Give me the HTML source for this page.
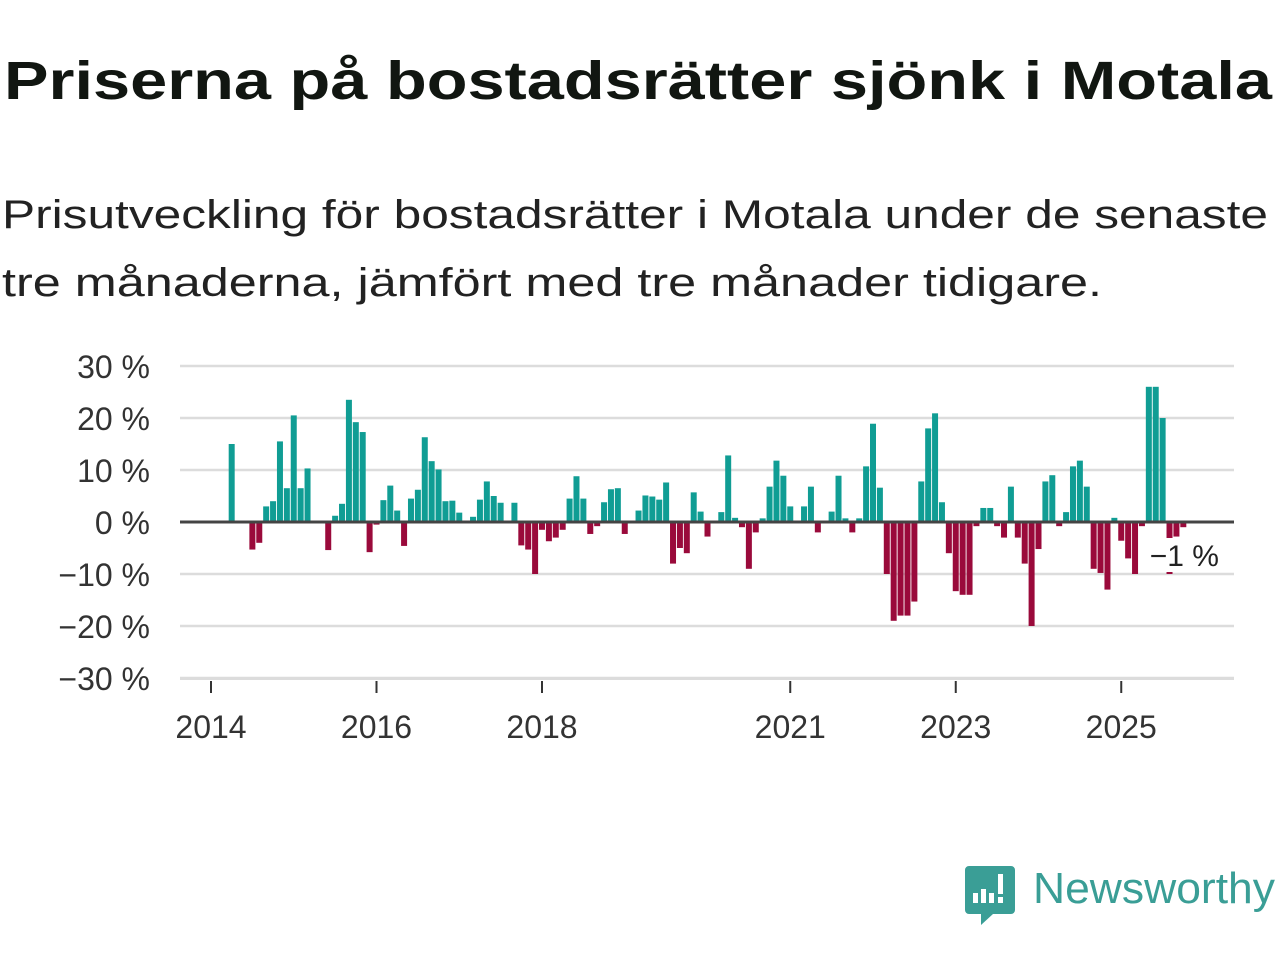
<!DOCTYPE html>
<html><head><meta charset="utf-8"><style>
html,body{margin:0;padding:0;background:#fff;}
svg{display:block;font-family:"Liberation Sans",sans-serif;}
</style></head><body>
<svg id="chart" width="1280" height="960" viewBox="0 0 1280 960">
<text x="4" y="99" font-size="54" font-weight="bold" fill="#111611" textLength="1268" lengthAdjust="spacingAndGlyphs">Priserna på bostadsrätter sjönk i Motala</text>
<text x="2" y="228" font-size="40" fill="#222" textLength="1266" lengthAdjust="spacingAndGlyphs">Prisutveckling för bostadsrätter i Motala under de senaste</text>
<text x="2" y="296" font-size="40" fill="#222" textLength="1100" lengthAdjust="spacingAndGlyphs">tre månaderna, jämfört med tre månader tidigare.</text>
<g id="grid"></g>
<g id="bars"></g>
<g id="axes"></g>
<g>
<path d="M969 866 h42 a4 4 0 0 1 4 4 v40 a4 4 0 0 1 -4 4 h-18 l-12 11 v-11 h-12 a4 4 0 0 1 -4 -4 v-40 a4 4 0 0 1 4 -4z" fill="#3a9e96"/>
<rect x="973" y="893" width="5" height="10" fill="#fff"/><rect x="981" y="889" width="5" height="14" fill="#fff"/><rect x="989" y="893" width="5" height="10" fill="#fff"/><rect x="998" y="874" width="5" height="20" fill="#fff"/><rect x="998" y="897" width="5" height="6" fill="#fff"/>
<text x="1033" y="903" font-size="44" fill="#3a9e96" textLength="242" lengthAdjust="spacingAndGlyphs">Newsworthy</text>
</g>
</svg>
<script>
const values = [0,0,0,15,0,0,-5.3,-4,3,4,15.5,6.5,20.5,6.5,10.3,0,0,-5.4,1.2,3.5,23.5,19.2,17.3,-5.8,-0.5,4.2,7,2.2,-4.6,4.5,6.2,16.3,11.7,10.1,4,4.1,1.8,0,1,4.3,7.8,5,3.7,0,3.7,-4.5,-5.3,-10,
-1.5,-3.7,-3,-1.5,4.5,8.8,4.5,-2.3,-0.8,3.8,6.3,6.5,-2.3,0,2.2,5.1,4.9,4.3,7.6,-8,-5,-6,5.7,2,-2.8,0,1.9,12.8,0.8,-1,-9,-2,0.7,6.8,11.8,8.9,3,0,3,6.8,-2,0,2,8.9,0.7,-2,0.7,10.7,18.9,6.6,-10,-19,-18,-18,-15.3,7.8,18,20.9,3.8,-6,-13.3,-14,-14,-0.8,2.7,2.7,-0.8,-3,6.8,-3,-8,-20,-5.2,7.8,9,-0.8,1.9,10.7,11.8,6.8,-9,-9.8,-13,0.8,-3.6,-7,-10,-0.8,26,26,20,-10,-2.8,-1];
const startYear = 2014;
const yTicks = [30,20,10,0,-10,-20,-30];
const yTickLabels = ["30 %","20 %","10 %","0 %","−10 %","−20 %","−30 %"];
const xTickYears = [2014,2016,2018,2021,2023,2025];
const lastLabel = "−1 %";

const NS="http://www.w3.org/2000/svg";
const plotL=180, plotR=1234;
const x0=211, monthW=82.75/12;
function xm(i){return x0+i*monthW;}
function xYear(y){return xm((y-startYear)*12);}
function yv(v){return 522 - v*5.2;}
function mk(tag,attrs,parent){const e=document.createElementNS(NS,tag);for(const k in attrs)e.setAttribute(k,attrs[k]);parent.appendChild(e);return e;}
const grid=document.getElementById('grid'), bars=document.getElementById('bars'), axes=document.getElementById('axes');
yTicks.forEach((t,k)=>{
  if(t!==0){const l=mk('line',{x1:plotL,x2:plotR,y1:yv(t),y2:yv(t),stroke:'#dcdcdc','stroke-width':2.5},grid);
  
  }
  const tx=mk('text',{x:150,y:yv(t)+12,'font-size':32,fill:'#333','text-anchor':'end'},axes);
  tx.textContent=yTickLabels[k];
  
  
});
const bw=6;
values.forEach((v,i)=>{
  if(v===0)return;
  const cx=xm(i);
  const r=mk('rect',{x:cx-bw/2,width:bw,y:Math.min(yv(v),522),height:Math.abs(yv(v)-522),fill:v>0?'#109d94':'#9a0a3b'},bars);
  
  
});
const zl=mk('line',{x1:plotL,x2:plotR,y1:522,y2:522,stroke:'#444','stroke-width':3},axes);


const xa=mk('line',{x1:plotL,x2:plotR,y1:679,y2:679,stroke:'#dcdcdc','stroke-width':2},axes);


xTickYears.forEach(y=>{
  const x=xYear(y);
  const t=mk('line',{x1:x,x2:x,y1:681,y2:693,stroke:'#333','stroke-width':2},axes);
  
  
  const tx=mk('text',{x:x,y:738,'font-size':32,fill:'#333','text-anchor':'middle'},axes);
  tx.textContent=String(y);
  
  
});
const li=values.length-1;
const bg=mk('rect',{x:xm(li)-37,y:538,width:76,height:34,fill:'#fff'},axes);


const lt=mk('text',{x:xm(li)+1,y:566,'font-size':30,fill:'#222','text-anchor':'middle'},axes);
lt.textContent=lastLabel;


</script>
</body></html>
